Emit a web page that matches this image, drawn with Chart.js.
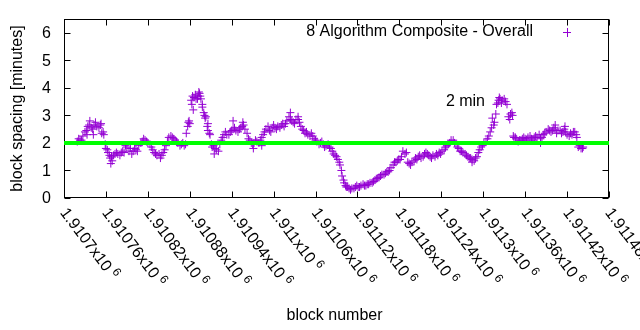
<!DOCTYPE html>
<html>
<head>
<meta charset="utf-8">
<script src="https://cdn.jsdelivr.net/npm/chart.js@4/dist/chart.umd.min.js"></script>
<style>
html,body{margin:0;padding:0;background:#fff;}
canvas{display:block;}
</style>
</head>
<body>
<canvas id="c" width="640" height="330"></canvas>
<script>
// ---- data ----
const blocks = [1910719,1910723,1910727,1910732,1910734,1910739,1910743,1910747,1910752,1910754,1910757,1910760,1910763,1910766,1910769,1910773,1910777,1910782,1910786,1910790,1910795,1910799,1910803,1910807,1910812,1910816,1910820,1910825,1910829,1910833,1910838,1910842,1910846,1910850,1910855,1910859,1910863,1910868,1910872,1910875,1910878,1910880,1910883,1910886,1910889,1910892,1910895,1910898,1910901,1910903,1910906,1910909,1910912,1910916,1910921,1910925,1910929,1910933,1910938,1910942,1910946,1910951,1910955,1910959,1910964,1910968,1910972,1910976,1910981,1910985,1910989,1910994,1910998,1911002,1911006,1911011,1911015,1911019,1911024,1911028,1911032,1911037,1911041,1911045,1911049,1911054,1911058,1911062,1911067,1911071,1911075,1911080,1911084,1911088,1911092,1911095,1911098,1911101,1911104,1911108,1911112,1911117,1911121,1911125,1911130,1911134,1911138,1911143,1911147,1911151,1911155,1911160,1911164,1911168,1911173,1911177,1911181,1911185,1911190,1911194,1911198,1911203,1911207,1911211,1911216,1911220,1911224,1911228,1911233,1911237,1911241,1911246,1911250,1911254,1911259,1911263,1911267,1911271,1911276,1911280,1911284,1911289,1911293,1911297,1911301,1911306,1911310,1911313,1911316,1911319,1911322,1911324,1911327,1911332,1911336,1911339,1911342,1911344,1911347,1911352,1911356,1911360,1911364,1911369,1911373,1911377,1911382,1911386,1911390,1911395,1911399,1911403,1911407,1911412,1911416,1911420,1911425,1911429,1911433,1911436,1911440,1911443];
const spacing = [2.05,2.1,2.25,2.45,2.6,2.55,2.65,2.6,2.65,2.35,2.3,1.8,1.65,1.45,1.35,1.6,1.6,1.65,1.65,1.85,1.8,1.7,1.75,1.9,2.05,2.1,2.0,1.85,1.65,1.55,1.45,1.65,1.9,2.2,2.2,2.1,2.0,1.95,1.9,2.35,2.75,2.7,3.4,3.65,3.6,3.7,3.7,3.3,3.0,2.95,2.45,2.3,1.85,1.8,1.7,2.1,2.3,2.3,2.4,2.5,2.45,2.5,2.6,2.5,2.15,2.0,2.0,2.05,2.1,2.3,2.5,2.45,2.55,2.55,2.6,2.65,2.6,2.8,2.85,2.75,2.85,2.75,2.5,2.35,2.3,2.35,2.15,2.05,2.0,1.95,1.9,1.85,1.7,1.55,1.4,1.2,0.8,0.55,0.4,0.35,0.35,0.4,0.4,0.45,0.45,0.5,0.55,0.6,0.7,0.75,0.85,0.9,0.95,1.1,1.3,1.35,1.4,1.7,1.65,1.25,1.3,1.45,1.5,1.45,1.6,1.6,1.5,1.55,1.6,1.65,1.7,1.85,1.95,2.1,2.0,1.85,1.7,1.65,1.55,1.45,1.4,1.45,1.65,1.85,2.0,2.15,2.4,2.9,2.75,3.4,3.55,3.6,3.55,3.5,2.95,3.05,3.0,2.2,2.15,2.1,2.15,2.15,2.2,2.15,2.2,2.2,2.15,2.3,2.4,2.45,2.45,2.5,2.45,2.35,2.5,2.3,2.35,2.4,2.3,1.85,1.8,1.85];
// in-between blocks, spread of the point cloud
const midBlocks = [1910721,1910725,1910730,1910733,1910736,1910741,1910745,1910750,1910753,1910756,1910759,1910762,1910765,1910768,1910771,1910775,1910780,1910784,1910788,1910793,1910797,1910801,1910805,1910810,1910814,1910818,1910823,1910827,1910831,1910836,1910840,1910844,1910848,1910853,1910857,1910861,1910866,1910870,1910874,1910877,1910879,1910882,1910884,1910888,1910891,1910894,1910896,1910900,1910902,1910905,1910908,1910911,1910914,1910918,1910923,1910927,1910931,1910936,1910940,1910944,1910949,1910953,1910957,1910962,1910966,1910970,1910974,1910979,1910983,1910987,1910992,1910996,1911000,1911004,1911009,1911013,1911017,1911022,1911026,1911030,1911035,1911039,1911043,1911047,1911052,1911056,1911060,1911065,1911069,1911073,1911078,1911082,1911086,1911090,1911094,1911097,1911100,1911103,1911106,1911110,1911115,1911119,1911123,1911128,1911132,1911136,1911141,1911145,1911149,1911153,1911158,1911162,1911166,1911171,1911175,1911179,1911183,1911188,1911192,1911196,1911201,1911205,1911209,1911214,1911218,1911222,1911226,1911231,1911235,1911239,1911244,1911248,1911252,1911257,1911261,1911265,1911269,1911274,1911278,1911282,1911287,1911291,1911295,1911299,1911304,1911308,1911312,1911315,1911318,1911321,1911323,1911326,1911330,1911334,1911338,1911341,1911343,1911346,1911350,1911354,1911358,1911362,1911367,1911371,1911375,1911380,1911384,1911388,1911393,1911397,1911401,1911405,1911410,1911414,1911418,1911423,1911427,1911431,1911434,1911438,1911442];
const midSpacing = [2.15,2.1,2.4,2.3,2.65,2.5,2.75,2.55,2.7,2.4,1.95,1.75,1.55,1.5,1.55,1.65,1.55,1.7,1.9,1.7,1.6,1.8,1.7,2.0,2.15,2.05,1.95,1.75,1.6,1.6,1.55,1.75,2.05,2.25,2.15,2.05,1.9,2.0,1.95,2.6,2.8,3.55,3.7,3.75,3.6,3.8,3.6,3.1,2.9,2.6,2.35,1.95,1.9,1.75,1.95,2.2,2.4,2.3,2.45,2.55,2.4,2.55,2.65,2.35,2.1,1.95,2.1,2.0,2.2,2.4,2.6,2.4,2.65,2.5,2.55,2.7,2.7,2.95,2.8,2.7,2.85,2.6,2.45,2.4,2.25,2.25,2.1,1.95,2.05,1.85,1.95,1.8,1.6,1.5,1.3,1.0,0.65,0.45,0.4,0.3,0.35,0.45,0.4,0.5,0.45,0.5,0.55,0.65,0.72,0.8,0.85,0.95,1.0,1.2,1.3,1.4,1.5,1.6,1.3,1.2,1.35,1.4,1.55,1.5,1.65,1.55,1.45,1.5,1.55,1.6,1.75,1.9,2.0,2.1,1.95,1.8,1.7,1.6,1.5,1.45,1.35,1.5,1.75,1.9,2.05,2.25,2.55,2.65,3.05,3.45,3.65,3.45,3.6,3.4,2.85,3.1,2.25,2.2,2.05,2.1,2.2,2.1,2.25,2.1,2.25,2.3,2.2,2.35,2.5,2.4,2.55,2.35,2.45,2.4,2.4,2.25,2.3,2.4,2.2,1.9,1.8];
// scattered single points that stand out of the main band
const extraBlocks = [1910737,1910742,1910767,1910885,1910893,1910898,1910906,1910915,1910942,1910956,1910971,1910983,1911024,1911035,1911284,1911382,1911403,1911417];
const extraSpacing = [2.8,2.3,1.25,3.2,3.85,3.4,2.7,1.6,2.8,2.75,1.8,1.9,3.1,2.95,1.3,2.0,2.65,2.6];
const targetMinutes = 2;
const xTickValues = [1910700,1910760,1910820,1910880,1910940,1911000,1911060,1911120,1911180,1911240,1911300,1911360,1911420,1911480];
const xTickMantissas = ['1.9107','1.91076','1.91082','1.91088','1.91094','1.911','1.91106','1.91112','1.91118','1.91124','1.9113','1.91136','1.91142','1.91148'];
const yTickValues = [0,1,2,3,4,5,6];
const seriesLabel = '8 Algorithm Composite - Overall';
const lineLabel = '2 min';
const xTitle = 'block number';
const yTitle = 'block spacing [minutes]';

const PURPLE = '#9400d3';
const GREEN = '#00ff00';
const FONT = '"Liberation Sans", Arial, Helvetica, sans-serif';

const pts = blocks.map((b,i)=>({x:b,y:spacing[i]}))
  .concat(midBlocks.map((b,i)=>({x:b,y:midSpacing[i]})))
  .concat(extraBlocks.map((b,i)=>({x:b,y:extraSpacing[i]})));

const framePlugin = {
  id:'frame',
  beforeDatasetsDraw(chart){
    const {ctx, chartArea:a, scales:{x,y}} = chart;
    ctx.save();
    ctx.strokeStyle='#000'; ctx.lineWidth=1;
    const L=Math.round(a.left)+0.5, R=Math.round(a.right)-0.5, T=Math.round(a.top)+0.5, B=Math.round(a.bottom)-0.5;
    ctx.strokeRect(L,T,R-L,B-T);
    const tl=6;
    ctx.beginPath();
    xTickValues.forEach(v=>{
      const px=Math.round(x.getPixelForValue(v))+0.5;
      ctx.moveTo(px,B); ctx.lineTo(px,B-tl);
      ctx.moveTo(px,T); ctx.lineTo(px,T+tl);
    });
    yTickValues.forEach(v=>{
      const py=Math.round(y.getPixelForValue(v))+0.5;
      ctx.moveTo(L,py); ctx.lineTo(L+tl,py);
      ctx.moveTo(R,py); ctx.lineTo(R-tl,py);
    });
    ctx.stroke();
    ctx.restore();
  },
  afterDraw(chart){
    const {ctx, chartArea:a, scales:{x,y}} = chart;
    ctx.save();
    ctx.fillStyle='#000';
    ctx.font='16px '+FONT;
    // y tick labels
    ctx.textAlign='right'; ctx.textBaseline='middle';
    yTickValues.forEach(v=>{ ctx.fillText(String(v), a.left-13, y.getPixelForValue(v)+1); });
    // x tick labels, rotated, with superscript exponent
    const ang = 53*Math.PI/180;
    xTickMantissas.forEach((m,i)=>{
      const px = x.getPixelForValue(xTickValues[i]);
      ctx.save();
      ctx.translate(px-1, a.bottom+12);
      ctx.rotate(ang);
      ctx.textAlign='left'; ctx.textBaseline='middle';
      ctx.font='16px '+FONT;
      const s = m+'x10';
      ctx.fillText(s,0,0);
      const w = ctx.measureText(s).width;
      ctx.font='12px '+FONT;
      ctx.fillText('6', w+4, -5);
      ctx.restore();
    });
    // axis titles
    ctx.font='16px '+FONT;
    ctx.textAlign='center'; ctx.textBaseline='middle';
    ctx.fillText(xTitle, (a.left+a.right)/2-2, 316);
    ctx.save();
    ctx.translate(18,(a.top+a.bottom)/2);
    ctx.rotate(-Math.PI/2);
    ctx.fillText(yTitle,0,0);
    ctx.restore();
    // key
    ctx.textAlign='right';
    ctx.fillText(seriesLabel, 533, 32);
    ctx.strokeStyle=PURPLE; ctx.lineWidth=1;
    ctx.beginPath();
    ctx.moveTo(563,32.5); ctx.lineTo(571,32.5);
    ctx.moveTo(567.5,28); ctx.lineTo(567.5,37);
    ctx.stroke();
    // line label
    ctx.textAlign='right';
    ctx.fillText(lineLabel, 485, 102);
    ctx.restore();
  }
};

new Chart(document.getElementById('c'),{
  type:'scatter',
  data:{datasets:[
    {label:lineLabel,type:'line',data:[{x:xTickValues[0],y:targetMinutes},{x:xTickValues[xTickValues.length-1],y:targetMinutes}],
     borderColor:GREEN,borderWidth:4,pointRadius:0,fill:false,order:0},
    {label:seriesLabel,data:pts,pointStyle:'cross',pointRadius:4,pointBorderWidth:1,
     borderColor:PURPLE,backgroundColor:PURPLE,order:1}
  ]},
  options:{
    responsive:false,animation:false,devicePixelRatio:1,
    layout:{padding:{left:64,right:31,top:19,bottom:132}},
    plugins:{legend:{display:false},tooltip:{enabled:false}},
    scales:{
      x:{type:'linear',display:false,min:1910700,max:1911480},
      y:{type:'linear',display:false,min:0,max:6.5}
    }
  },
  plugins:[framePlugin]
});
</script>
</body>
</html>
